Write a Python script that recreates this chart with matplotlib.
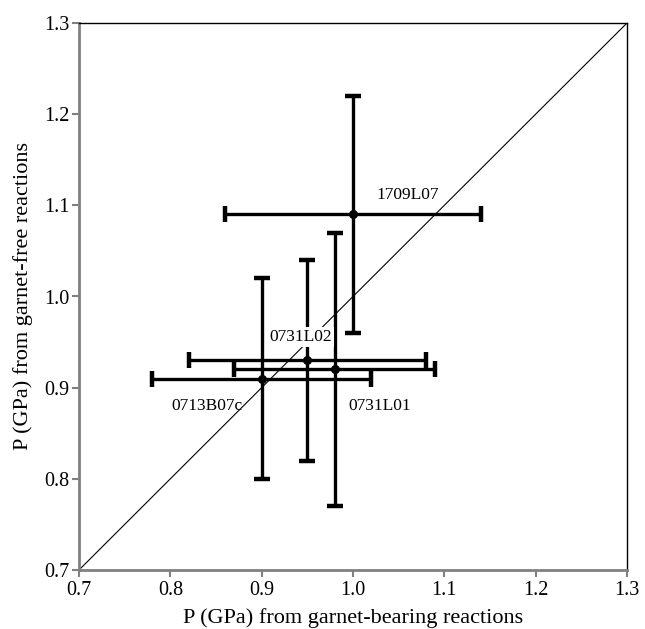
import matplotlib
matplotlib.use("Agg")
import matplotlib.pyplot as plt

samples = ['1709L07', '0731L02', '0731L01', '0713B07c']
p_bearing = [1.00, 0.95, 0.98, 0.90]
p_free = [1.09, 0.93, 0.92, 0.91]
bearing_lo = [0.86, 0.82, 0.87, 0.78]
bearing_hi = [1.14, 1.08, 1.09, 1.02]
free_lo = [0.96, 0.82, 0.77, 0.80]
free_hi = [1.22, 1.04, 1.07, 1.02]
label_x = [1.060, 0.943, 1.029, 0.840]
label_y = [1.111, 0.956, 0.880, 0.880]
ticks = [0.7, 0.8, 0.9, 1.0, 1.1, 1.2, 1.3]

plt.rcParams['font.family'] = ['Liberation Serif', 'DejaVu Serif']

fig = plt.figure(figsize=(6.45, 6.29), dpi=100)
ax = fig.add_axes([79/645, 1-570/629, 548/645, 547/629])

ax.plot([0.7, 1.3], [0.7, 1.3], color='black', lw=0.8, zorder=1)

for i in range(len(samples)):
    xe = [[p_bearing[i]-bearing_lo[i]], [bearing_hi[i]-p_bearing[i]]]
    ye = [[p_free[i]-free_lo[i]], [free_hi[i]-p_free[i]]]
    ax.errorbar([p_bearing[i]], [p_free[i]], xerr=xe, yerr=ye, fmt='o',
                color='black', ms=5.5, elinewidth=2.4, capsize=6, capthick=3.2, zorder=2)

for i, s in enumerate(samples):
    ax.text(label_x[i], label_y[i], s, ha='center', va='center', fontsize=12.5,
            zorder=5 if s == '0731L02' else 3,
            bbox=dict(facecolor='white', edgecolor='none', pad=1.5) if s == '0731L02' else None)

ax.set_xlim(0.7, 1.3)
ax.set_ylim(0.7, 1.3)
ax.set_xticks(ticks)
ax.set_yticks(ticks)
ax.set_xticklabels([f'{t:.1f}' for t in ticks])
ax.set_yticklabels([f'{t:.1f}' for t in ticks])
ax.tick_params(direction='out', length=5, width=1.5, color='#808080', labelsize=14.5)
ax.tick_params(axis='x', pad=3)
ax.tick_params(axis='y', pad=2)
for sp in ['left', 'bottom']:
    ax.spines[sp].set_color('#808080')
    ax.spines[sp].set_linewidth(2)
for sp in ['top', 'right']:
    ax.spines[sp].set_color('black')
    ax.spines[sp].set_linewidth(1)

ax.set_xlabel('P (GPa) from garnet-bearing reactions', fontsize=16, labelpad=6)
ax.set_ylabel('P (GPa) from garnet-free reactions', fontsize=16, labelpad=8)

fig.savefig('out.png', dpi=100)
